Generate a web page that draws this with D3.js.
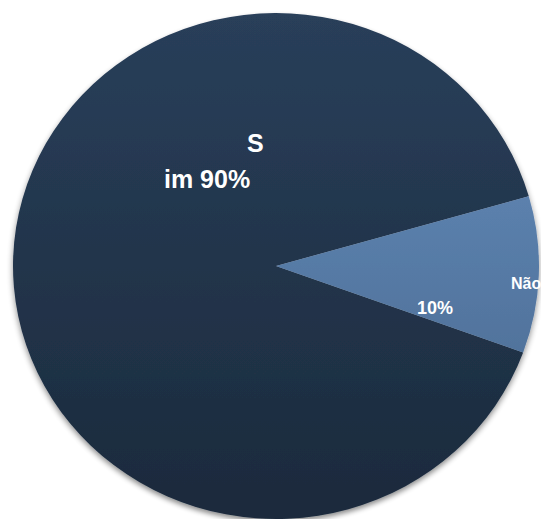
<!DOCTYPE html>
<html>
<head>
<meta charset="utf-8">
<script src="https://cdn.jsdelivr.net/npm/d3@7"></script>
<style>
  html, body { margin: 0; padding: 0; background: #ffffff; overflow: hidden; }
  svg { display: block; }
  text { font-family: "Liberation Sans", Arial, sans-serif; font-weight: bold; fill: #ffffff; }
</style>
</head>
<body>
<div id="chart"></div>
<script>
// Answer shares
const categories = ["Sim", "Não"];
const values = [90, 10];
const percentLabels = ["90%", "10%"];

const width = 541, height = 519;
const cx = 276, cy = 266;
const radius = 263;
const yScale = 253 / 263;   // pie is drawn slightly flattened vertically

const svg = d3.select("#chart").append("svg")
  .attr("width", width)
  .attr("height", height);

const defs = svg.append("defs");

// Vertical gradients for each slice
const gradStops = [
  { id: "gSim", top: "#293f5a", bottom: "#1b2a3c" },
  { id: "gNao", top: "#6891c1", bottom: "#45648a" }
];
gradStops.forEach(g => {
  const lg = defs.append("linearGradient")
    .attr("id", g.id)
    .attr("gradientUnits", "userSpaceOnUse")
    .attr("x1", 0).attr("y1", -radius)
    .attr("x2", 0).attr("y2", radius);
  lg.append("stop").attr("offset", "0%").attr("stop-color", g.top);
  lg.append("stop").attr("offset", "100%").attr("stop-color", g.bottom);
});

// Soft drop shadow under the pie
const shadow = defs.append("filter").attr("id", "shadow")
  .attr("x", "-10%").attr("y", "-10%").attr("width", "120%").attr("height", "120%");
shadow.append("feGaussianBlur").attr("in", "SourceAlpha").attr("stdDeviation", 3);
shadow.append("feOffset").attr("dx", 0).attr("dy", 3).attr("result", "off");
shadow.append("feComponentTransfer").append("feFuncA").attr("type", "linear").attr("slope", 0.45);
const merge = shadow.append("feMerge");
merge.append("feMergeNode");
merge.append("feMergeNode").attr("in", "SourceGraphic");

const startDeg = 110;
const pie = d3.pie()
  .sort(null)
  .startAngle(startDeg * Math.PI / 180)
  .endAngle((startDeg + 360) * Math.PI / 180);

const arc = d3.arc().innerRadius(0).outerRadius(radius);

const g = svg.append("g")
  .attr("transform", `translate(${cx},${cy}) scale(1,${yScale})`)
  .attr("filter", "url(#shadow)");

g.selectAll("path")
  .data(pie(values))
  .join("path")
  .attr("d", arc)
  .attr("fill", (d, i) => `url(#${gradStops[i].id})`);

// Data labels: "Sim" label wraps after its first letter, "Não" sits near the rim
const labels = svg.append("g");
labels.append("text")
  .attr("x", 247).attr("y", 152)
  .style("font-size", "25px")
  .text(categories[0].slice(0, 1));
labels.append("text")
  .attr("x", 164).attr("y", 188)
  .style("font-size", "25px")
  .text(categories[0].slice(1) + " " + percentLabels[0]);

labels.append("text")
  .attr("x", 511).attr("y", 289)
  .style("font-size", "16px")
  .text(categories[1]);
labels.append("text")
  .attr("x", 417).attr("y", 314)
  .style("font-size", "18px")
  .text(percentLabels[1]);
</script>
</body>
</html>
